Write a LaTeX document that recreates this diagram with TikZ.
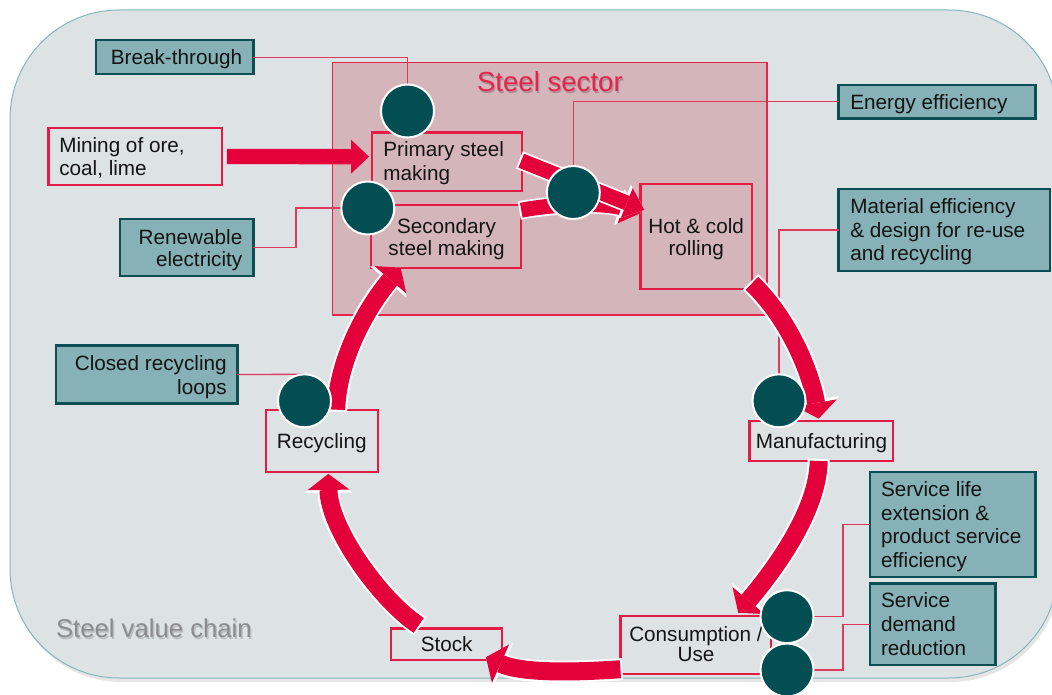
\documentclass[tikz,border=0pt]{standalone}
\usepackage{fontspec}
\setmainfont{Liberation Sans}
\usetikzlibrary{arrows.meta}
\definecolor{bgfill}{HTML}{DDE2E5}
\definecolor{bgline}{HTML}{86B6BB}
\definecolor{sectorfill}{HTML}{D4B5BA}
\definecolor{sectoredge}{HTML}{E5234C}
\definecolor{brightred}{HTML}{E4003A}
\definecolor{boxred}{HTML}{E31B45}
\definecolor{linkred}{HTML}{E0395E}
\definecolor{tealfill}{HTML}{86B1B6}
\definecolor{tealedge}{HTML}{0B4F55}
\definecolor{dotfill}{HTML}{024E52}
\definecolor{chaingray}{HTML}{8A8C8E}
\pgfdeclarelayer{base}
\pgfdeclarelayer{flows}
\pgfsetlayers{base,flows,main}

\begin{document}
\begin{tikzpicture}[x=1pt,y=-1pt,
  every node/.style={inner sep=0pt, outer sep=0pt},
  txt/.style={font=\fontsize{20.7}{23.5}\selectfont, text=black!92},
  redbox/.style={draw=boxred, line width=2.2pt},
  tealbox/.style={draw=tealedge, fill=tealfill, line width=2.5pt},
  dot/.style={circle, fill=dotfill, draw=white, line width=2pt, minimum size=53pt},
  link/.style={draw=linkred, line width=1.3pt},
  flowunder/.style={draw=white, line width=22pt, shorten <=-2pt,
    -{Triangle[width=48pt,length=19pt,line width=0pt]}},
  flowover/.style={draw=brightred, line width=18pt,
    -{Triangle[width=42pt,length=16pt,line width=0pt]}},
  feedunder/.style={draw=white, line width=18.5pt, shorten <=-2pt,
    -{Triangle[width=37pt,length=22pt,line width=0pt]}},
  feedover/.style={draw=brightred, line width=15pt,
    -{Triangle[width=32pt,length=19pt,line width=0pt]}}
]
\useasboundingbox (0,0) rectangle (1052,695);

\begin{pgfonlayer}{base}
% value chain background
\fill[black, opacity=0.10, rounded corners=109pt] (12,13) rectangle (1060,682);
\draw[bgline, fill=bgfill, line width=1pt, rounded corners=109pt] (10,10) rectangle (1058,678);

% steel sector area
\node[draw=sectoredge, fill=sectorfill, line width=1.5pt,
      minimum width=434.7pt, minimum height=252.7pt] (sector) at (549.7,188.7) {};

\node[font=\fontsize{27.6}{30}\selectfont, text=black, opacity=0.2, anchor=base]
  (sectorshadow) at (551.2,93.2) {Steel sector};
\node[font=\fontsize{27.6}{30}\selectfont, text=sectoredge, anchor=base]
  (sectortitle) at (549.9,91.7) {Steel sector};
\node[font=\fontsize{25.7}{28}\selectfont, text=black, opacity=0.16, anchor=base west]
  (chainshadow) at (57.5,639.2) {Steel value chain};
\node[font=\fontsize{25.7}{28}\selectfont, text=chaingray, anchor=base west]
  (chaintitle) at (56,637.7) {Steel value chain};

% process boxes
\node[redbox, minimum width=173.5pt, minimum height=57pt] (mine) at (135.2,156.5) {};
\node[redbox, minimum width=150.5pt, minimum height=58.5pt] (pri) at (447,161.7) {};
\node[redbox, minimum width=150.5pt, minimum height=62.8pt] (sec) at (446,236.2) {};
\node[redbox, minimum width=111.5pt, minimum height=105.2pt] (hot) at (696.2,236.7) {};
\node[redbox, minimum width=143.5pt, minimum height=40.2pt] (manu) at (821.2,440.8) {};
\node[redbox, minimum width=150.8pt, minimum height=58.5pt] (cons) at (695.8,645) {};
\node[redbox, minimum width=111.2pt, minimum height=31.8pt] (stock) at (446.3,644.3) {};
\node[redbox, minimum width=111.8pt, minimum height=62.2pt] (rec) at (321.7,440.8) {};

% strategy boxes
\node[tealbox, minimum width=157.5pt, minimum height=34pt] (brk) at (174.7,57.2) {};
\node[tealbox, minimum width=133.5pt, minimum height=56.8pt] (ren) at (186.7,247.5) {};
\node[tealbox, minimum width=197pt, minimum height=33.6pt] (en) at (937,101.7) {};
\node[tealbox, minimum width=211.5pt, minimum height=81.8pt] (mat) at (944.3,230) {};
\node[tealbox, minimum width=181.5pt, minimum height=58pt] (crl) at (146.7,374.5) {};
\node[tealbox, minimum width=165.3pt, minimum height=105pt] (sl) at (952.8,524.3) {};
\node[tealbox, minimum width=125.3pt, minimum height=81.3pt] (sd) at (932.8,624.2) {};

% labels (multi-line labels are placed by the baseline of their last line)
\node[txt, anchor=base west, align=left, font=\fontsize{20.7}{23}\selectfont] (tmine) at (59.3,175.7) {Mining of ore,\\coal, lime};
\node[txt, anchor=base west, align=left, font=\fontsize{20.7}{24.3}\selectfont] (tpri) at (383.3,181) {Primary steel\\making};
\node[txt, anchor=base, align=center, font=\fontsize{20.7}{21.7}\selectfont] (tsec) at (446.5,255) {Secondary\\steel making};
\node[txt, anchor=base, align=center, font=\fontsize{20.7}{21.7}\selectfont] (thot) at (696.2,255) {Hot \& cold\\rolling};
\node[txt, anchor=base] (tmanu) at (821.5,448.3) {Manufacturing};
\node[txt, anchor=base, align=center, font=\fontsize{20.7}{20.7}\selectfont] (tcons) at (696,661.7) {Consumption /\\Use};
\node[txt, anchor=base] (tstock) at (446.7,651.7) {Stock};
\node[txt, anchor=base] (trec) at (321.7,448.3) {Recycling};

\node[txt, anchor=base] (tbrk) at (176.5,65) {Break-through};
\node[txt, anchor=base east, align=right, font=\fontsize{20.7}{22.4}\selectfont] (tren) at (242.3,266.7) {Renewable\\electricity};
\node[txt, anchor=base west] (ten) at (850.3,110) {Energy efficiency};
\node[txt, anchor=base west, align=left, font=\fontsize{20.7}{23.7}\selectfont] (tmat) at (850.3,260.7) {Material efficiency\\\& design for re-use\\and recycling};
\node[txt, anchor=base east, align=right, font=\fontsize{20.7}{24.3}\selectfont] (tcrl) at (226.7,394.3) {Closed recycling\\loops};
\node[txt, anchor=base west, align=left, font=\fontsize{20.7}{23.5}\selectfont] (tsl) at (881,567.3) {Service life\\extension \&\\product service\\efficiency};
\node[txt, anchor=base west, align=left, font=\fontsize{20.7}{23.7}\selectfont] (tsd) at (881,655) {Service\\demand\\reduction};
\end{pgfonlayer}

% intervention points
\node[dot] (c1) at (407.5,111) {};
\node[dot] (c2) at (367.8,208) {};
\node[dot] (c3) at (573.3,192.5) {};
\node[dot] (c4) at (304.5,400.8) {};
\node[dot] (c5) at (779,400.8) {};
\node[dot] (c6) at (787,616.7) {};
\node[dot] (c7) at (787,670) {};

\begin{pgfonlayer}{flows}
% links from strategies to intervention points
\path[link] (brk.east) -| (c1);
\path[link] (ren.east) -- ++(42.4,0) |- (c2);
\path[link] (en.west) -| (c3);
\path[link] (mat.west) -| (c5);
\path[link] (crl.east) -- (c4.north);
\path[link] (sl.west) -- ++(-27.3,0) |- (c6);
\path[link] (sd.west) -- ++(-27.3,0) |- (c7);

% raw material input
\draw[brightred, line width=15.3pt, -{Triangle[width=34pt,length=18pt,line width=0pt]}]
  ([xshift=5pt]mine.east) -- ([xshift=-2.7pt,yshift=5pt]pri.west);

% steel making to rolling
\draw[feedunder] ([yshift=26pt]sec.east) .. controls (560,203) and (605,203) .. ([yshift=23.4pt]hot.west);
\draw[feedover]  ([yshift=26pt]sec.east) .. controls (560,203) and (605,203) .. ([yshift=23.4pt]hot.west);
\draw[feedunder] ([xshift=-1pt,yshift=1pt]pri.east) -- ([xshift=4pt,yshift=26.7pt]hot.west);
\draw[feedover]  ([xshift=-1pt,yshift=1pt]pri.east) -- ([xshift=4pt,yshift=26.7pt]hot.west);

% material cycle
\foreach \lay in {flowunder,flowover}{
  \draw[\lay] ([yshift=6pt]hot.south east) .. controls (790,320) and (811,373.7) .. ([xshift=-2.5pt,yshift=2pt]manu.north);
  \draw[\lay] ([xshift=-2.5pt]manu.south) .. controls (818,510) and (776,568) .. ([xshift=-33pt,yshift=3pt]cons.north east);
  \draw[\lay] ([yshift=5pt]cons.south west) .. controls (579.7,672) and (523.5,674) .. ([xshift=-16pt,yshift=3pt]stock.south east);
  \draw[\lay] ([xshift=28pt,yshift=3pt]stock.north west) .. controls (380,600) and (329,528) .. ([xshift=6.6pt,yshift=-2pt]rec.south);
  \draw[\lay] ([xshift=14.5pt]rec.north) .. controls (337.7,359) and (367.5,306.3) .. ([xshift=30pt]sec.south west);
}
\end{pgfonlayer}
\end{tikzpicture}
\end{document}
